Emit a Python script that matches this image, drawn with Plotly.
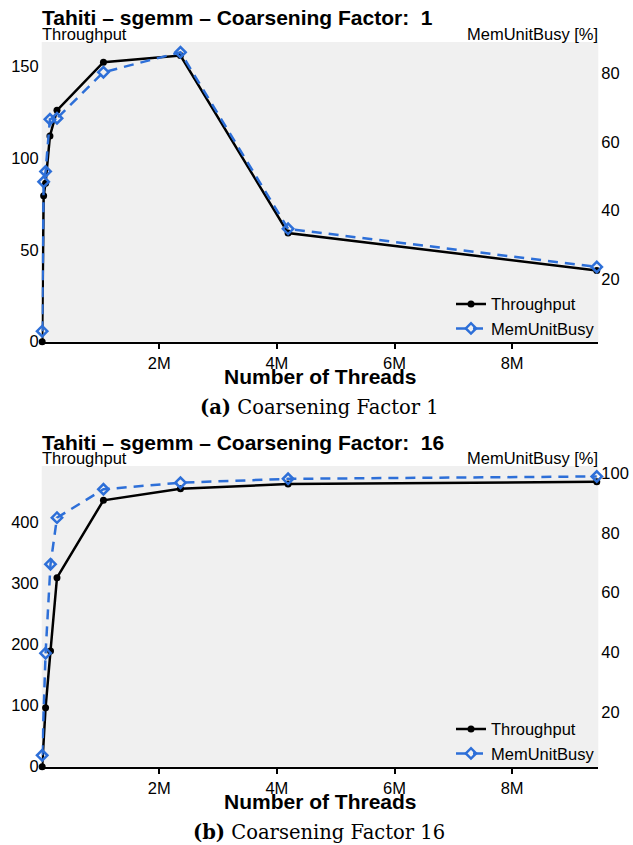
import plotly.graph_objects as go

# ---------------- data ----------------
threads_a = [0.008e6, 0.033e6, 0.066e6, 0.14e6, 0.26e6, 1.05e6, 2.36e6, 4.19e6, 9.44e6]
throughput_a = [0, 79.5, 86.3, 112, 126, 152.2, 155.8, 59.2, 38.8]
memunit_a = [4.9, 48.4, 51.4, 66.6, 66.9, 80.3, 86.1, 34.7, 23.6]

threads_b = [0.008e6, 0.066e6, 0.15e6, 0.26e6, 1.05e6, 2.36e6, 4.19e6, 9.44e6]
throughput_b = [0, 96.3, 189, 308.6, 435, 454, 461.5, 465.3]
memunit_b = [5.5, 39.7, 69.5, 85.1, 94.6, 96.8, 98.1, 98.9]

x_tickvals = [2e6, 4e6, 6e6, 8e6]
x_ticktext = ["2M", "4M", "6M", "8M"]

titles = ["Tahiti – sgemm – Coarsening Factor:  1", "Tahiti – sgemm – Coarsening Factor:  16"]
captions = ["<b>(a)</b> Coarsening Factor 1", "<b>(b)</b> Coarsening Factor 16"]

# ---------------- layout helpers ----------------
W, H = 633, 845
BLACK = "#000000"
BLUE = "#2D6FD8"
SANS = "Liberation Sans, Arial, sans-serif"
SERIF = "DejaVu Serif, serif"


def py(pix):
    return 1 - pix / H


def px(pix):
    return pix / W


xdom = [px(41.7), px(598.3)]
panels = [
    dict(top=42.0, bottom=341.7, yl=[0, 163.2], yr=[1.84, 89.1], yrt=[20, 40, 60, 80],
         ylt=[0, 50, 100, 150]),
    dict(top=466.0, bottom=766.7, yl=[0, 491], yr=[1.68, 102.4], yrt=[0, 20, 40, 60, 80, 100],
         ylt=[0, 100, 200, 300, 400]),
]

fig = go.Figure()

datasets = [(threads_a, throughput_a, memunit_a), (threads_b, throughput_b, memunit_b)]

for i, (xs, tp, mu) in enumerate(datasets):
    xa = "x" if i == 0 else "x2"
    yl = "y" if i == 0 else "y3"
    yr = "y2" if i == 0 else "y4"
    lg = "legend" if i == 0 else "legend2"
    fig.add_trace(go.Scatter(
        x=xs, y=tp, xaxis=xa, yaxis=yl, name="Throughput", legend=lg,
        mode="lines+markers", line=dict(color=BLACK, width=2.5),
        marker=dict(symbol="circle", size=7, color=BLACK), cliponaxis=False))
    fig.add_trace(go.Scatter(
        x=xs, y=mu, xaxis=xa, yaxis=yr, name="MemUnitBusy", legend=lg,
        mode="lines+markers", line=dict(color=BLUE, width=2.5, dash="10px,7px"),
        marker=dict(symbol="diamond-open", size=8, color=BLUE, line=dict(width=2.5, color=BLUE)),
        cliponaxis=False))

layout = dict(
    width=W, height=H, autosize=False,
    margin=dict(l=0, r=0, t=0, b=0),
    paper_bgcolor="white", plot_bgcolor="#F0F0F0",
    font=dict(family=SANS, size=16, color=BLACK),
    annotations=[],
)

for i, p in enumerate(panels):
    dom = [py(p["bottom"]), py(p["top"])]
    xk = "xaxis" if i == 0 else "xaxis2"
    ylk = "yaxis" if i == 0 else "yaxis3"
    yrk = "yaxis2" if i == 0 else "yaxis4"
    yl_id = "y" if i == 0 else "y3"
    x_id = "x" if i == 0 else "x2"
    layout[xk] = dict(domain=xdom, anchor=yl_id, range=[0, 9.466e6], tickvals=x_tickvals,
                      ticktext=x_ticktext, ticks="outside", ticklen=5, tickwidth=2,
                      tickcolor=BLACK, showline=True, linecolor=BLACK, linewidth=2,
                      showgrid=False, zeroline=False, automargin=False,
                      ticklabelstandoff=0, tickfont=dict(size=16.5, family=SANS))
    layout[ylk] = dict(domain=dom, anchor=x_id, range=p["yl"], tickvals=p["ylt"],
                       showgrid=False, zeroline=False, showline=False, ticks="",
                       automargin=False, ticklabelstandoff=2,
                       tickfont=dict(size=16.5, family=SANS))
    layout[yrk] = dict(overlaying=yl_id, side="right", anchor=x_id, range=p["yr"],
                       tickvals=p["yrt"], showgrid=False, zeroline=False, showline=False,
                       ticks="", automargin=False, ticklabelstandoff=2,
                       tickfont=dict(size=16.5, family=SANS))
    legkey = "legend" if i == 0 else "legend2"
    layout[legkey] = dict(x=px(600), xanchor="right", y=py(p["bottom"] + 4), yanchor="bottom",
                          bgcolor="rgba(0,0,0,0)", font=dict(size=16.5, family=SANS),
                          itemwidth=30, tracegroupgap=0)
    # title
    layout["annotations"].append(dict(
        text="<b>" + titles[i] + "</b>", x=px(40), y=py(p["top"] - 24), xref="paper",
        yref="paper", xanchor="left", yanchor="middle", showarrow=False,
        font=dict(size=21, family=SANS)))
    layout["annotations"].append(dict(
        text="Throughput", x=px(40), y=py(p["top"] - 8), xref="paper", yref="paper",
        xanchor="left", yanchor="middle", showarrow=False, font=dict(size=16.5, family=SANS)))
    layout["annotations"].append(dict(
        text="MemUnitBusy [%]", x=px(600), y=py(p["top"] - 8), xref="paper", yref="paper",
        xanchor="right", yanchor="middle", showarrow=False, font=dict(size=16.5, family=SANS)))
    layout["annotations"].append(dict(
        text="<b>Number of Threads</b>", x=px(320), y=py(p["bottom"] + 35), xref="paper",
        yref="paper", xanchor="center", yanchor="middle", showarrow=False,
        font=dict(size=21, family=SANS)))
    layout["annotations"].append(dict(
        text=captions[i], x=px(319), y=py(p["bottom"] + 66), xref="paper",
        yref="paper", xanchor="center", yanchor="middle", showarrow=False,
        font=dict(size=19.5, family=SERIF)))

fig.update_layout(**layout)
fig.write_html("out.html", config={"displayModeBar": False},
               post_script="document.body.style.margin='0';document.body.style.overflow='hidden';")
